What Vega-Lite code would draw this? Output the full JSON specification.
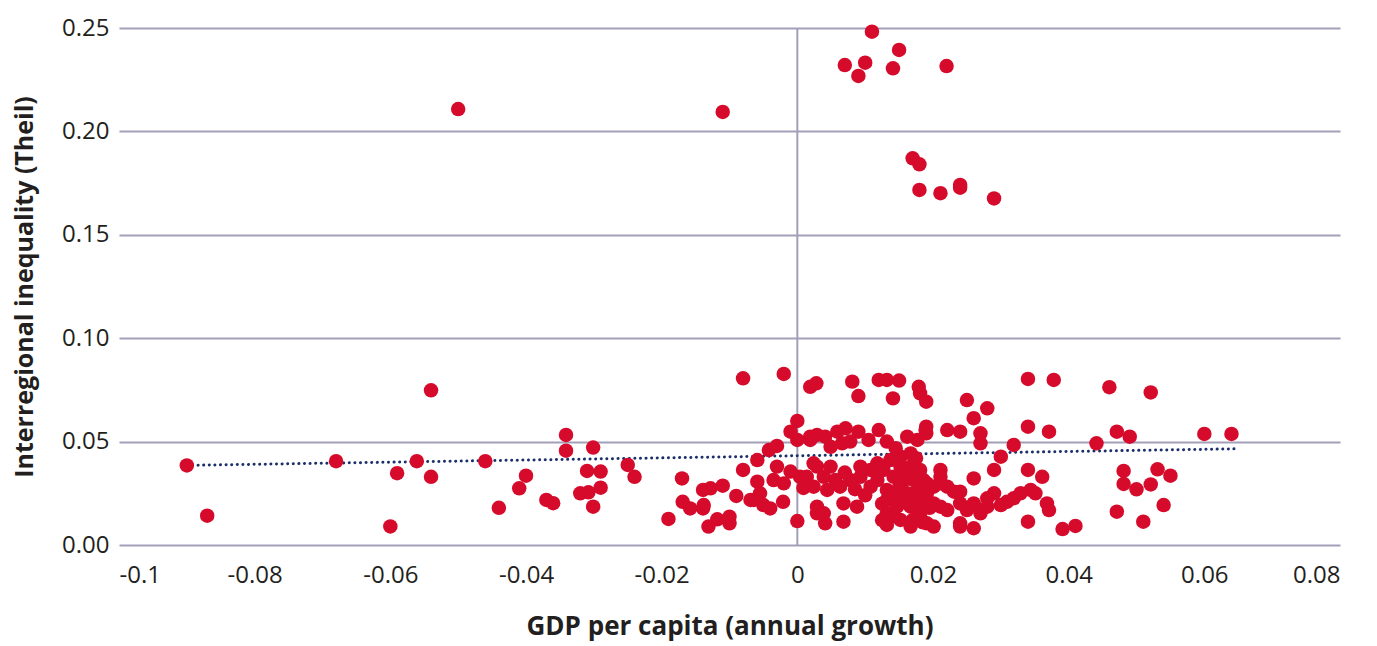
{
  "$schema": "https://vega.github.io/schema/vega-lite/v6.json",
  "autosize": "none",
  "width": 1221,
  "height": 517,
  "padding": {"left": 119, "top": 28, "right": 37, "bottom": 101},
  "background": "white",
  "config": {
    "view": {"stroke": null},
    "font": "Open Sans",
    "axis": {"labelFont": "Open Sans", "titleFont": "Open Sans", "labelColor": "#231f20", "titleColor": "#231f20"}
  },
  "datasets": {
    "pts": [
      {"g":0.0110,"t":0.2482},{"g":0.0150,"t":0.2394},{"g":0.0070,"t":0.2321},{"g":0.0100,"t":0.2332},{"g":0.0090,"t":0.2268},{"g":0.0141,"t":0.2305},{"g":0.0220,"t":0.2316},{"g":-0.0110,"t":0.2094},{"g":0.0170,"t":0.1870},{"g":0.0180,"t":0.1841},{"g":0.0180,"t":0.1717},{"g":0.0211,"t":0.1701},{"g":0.0240,"t":0.1741},{"g":0.0240,"t":0.1728},{"g":0.0290,"t":0.1676},{"g":-0.0500,"t":0.2108},
      {"g":-0.0900,"t":0.0385},{"g":-0.0870,"t":0.0142},{"g":-0.0680,"t":0.0405},{"g":-0.0600,"t":0.0090},{"g":-0.0590,"t":0.0347},{"g":-0.0561,"t":0.0405},{"g":-0.0540,"t":0.0330},{"g":-0.0540,"t":0.0748},{"g":-0.0460,"t":0.0405},{"g":-0.0440,"t":0.0180},{"g":-0.0400,"t":0.0335},{"g":-0.0410,"t":0.0274},{"g":-0.0370,"t":0.0218},{"g":-0.0360,"t":0.0202},{"g":-0.0341,"t":0.0532},{"g":-0.0341,"t":0.0456},{"g":-0.0301,"t":0.0471},{"g":-0.0310,"t":0.0358},{"g":-0.0290,"t":0.0355},{"g":-0.0320,"t":0.0250},{"g":-0.0308,"t":0.0255},{"g":-0.0290,"t":0.0277},{"g":-0.0301,"t":0.0185},{"g":-0.0250,"t":0.0387},{"g":-0.0240,"t":0.0330},{"g":-0.0170,"t":0.0322},{"g":-0.0190,"t":0.0126},{"g":-0.0169,"t":0.0209},{"g":-0.0158,"t":0.0177},{"g":-0.0139,"t":0.0266},{"g":-0.0128,"t":0.0274},{"g":-0.0110,"t":0.0287},{"g":-0.0139,"t":0.0177},{"g":-0.0131,"t":0.0089},{"g":-0.0118,"t":0.0124},{"g":-0.0100,"t":0.0137},{"g":-0.0100,"t":0.0105},{"g":-0.0090,"t":0.0237},{"g":-0.0080,"t":0.0363},{"g":-0.0080,"t":0.0806},{"g":-0.0020,"t":0.0827},{"g":0.0019,"t":0.0765},{"g":0.0028,"t":0.0782},{"g":-0.0059,"t":0.0411},{"g":-0.0042,"t":0.0459},{"g":-0.0030,"t":0.0479},{"g":0.0000,"t":0.0600},{"g":-0.0010,"t":0.0548},{"g":0.0000,"t":0.0508},{"g":-0.0030,"t":0.0379},{"g":-0.0059,"t":0.0306},{"g":-0.0064,"t":0.0218},{"g":-0.0050,"t":0.0193},{"g":-0.0040,"t":0.0177},{"g":-0.0021,"t":0.0209},{"g":-0.0035,"t":0.0314},{"g":-0.0010,"t":0.0355},{"g":0.0000,"t":0.0116},{"g":0.0009,"t":0.0276},{"g":0.0029,"t":0.0153},{"g":0.0024,"t":0.0395},{"g":0.0014,"t":0.0330},{"g":-0.0055,"t":0.0250},{"g":-0.0138,"t":0.0193},{"g":-0.0069,"t":0.0218},{"g":-0.0020,"t":0.0298},{"g":0.0004,"t":0.0330},{"g":0.0019,"t":0.0524},
      {"g":0.0081,"t":0.0790},{"g":0.0090,"t":0.0720},{"g":0.0120,"t":0.0798},{"g":0.0132,"t":0.0798},{"g":0.0150,"t":0.0795},{"g":0.0141,"t":0.0709},{"g":0.0179,"t":0.0765},{"g":0.0181,"t":0.0733},{"g":0.0190,"t":0.0693},{"g":0.0250,"t":0.0701},{"g":0.0280,"t":0.0661},{"g":0.0260,"t":0.0613},{"g":0.0340,"t":0.0803},{"g":0.0378,"t":0.0798},{"g":0.0340,"t":0.0572},{"g":0.0371,"t":0.0548},{"g":0.0221,"t":0.0556},{"g":0.0240,"t":0.0548},{"g":0.0270,"t":0.0540},{"g":0.0270,"t":0.0492},{"g":0.0190,"t":0.0572},{"g":0.0190,"t":0.0540},{"g":0.0319,"t":0.0484},{"g":0.0300,"t":0.0427},{"g":0.0290,"t":0.0363},{"g":0.0340,"t":0.0363},{"g":0.0361,"t":0.0330},{"g":0.0351,"t":0.0250},{"g":0.0329,"t":0.0250},{"g":0.0319,"t":0.0226},{"g":0.0309,"t":0.0209},{"g":0.0300,"t":0.0193},{"g":0.0368,"t":0.0201},{"g":0.0371,"t":0.0169},{"g":0.0340,"t":0.0113},{"g":0.0260,"t":0.0322},{"g":0.0290,"t":0.0250},{"g":0.0280,"t":0.0226},{"g":0.0260,"t":0.0193},{"g":0.0250,"t":0.0169},{"g":0.0240,"t":0.0089},{"g":0.0260,"t":0.0081},{"g":0.0221,"t":0.0282},{"g":0.0231,"t":0.0258},{"g":0.0211,"t":0.0363},{"g":0.0211,"t":0.0330},{"g":0.0201,"t":0.0282},{"g":0.0191,"t":0.0298},{"g":0.0201,"t":0.0201},{"g":0.0211,"t":0.0185},{"g":0.0221,"t":0.0169},{"g":0.0201,"t":0.0089},{"g":0.0191,"t":0.0105},{"g":0.0181,"t":0.0153},
      {"g":0.0029,"t":0.0532},{"g":0.0041,"t":0.0524},{"g":0.0059,"t":0.0548},{"g":0.0071,"t":0.0564},{"g":0.0090,"t":0.0548},{"g":0.0078,"t":0.0500},{"g":0.0066,"t":0.0492},{"g":0.0120,"t":0.0556},{"g":0.0105,"t":0.0508},{"g":0.0132,"t":0.0500},{"g":0.0145,"t":0.0468},{"g":0.0162,"t":0.0524},{"g":0.0177,"t":0.0508},{"g":0.0189,"t":0.0556},{"g":0.0019,"t":0.0508},{"g":0.0049,"t":0.0475},{"g":0.0029,"t":0.0379},{"g":0.0049,"t":0.0379},{"g":0.0039,"t":0.0330},{"g":0.0056,"t":0.0314},{"g":0.0024,"t":0.0282},{"g":0.0044,"t":0.0266},{"g":0.0063,"t":0.0282},{"g":0.0078,"t":0.0314},{"g":0.0093,"t":0.0379},{"g":0.0093,"t":0.0330},{"g":0.0108,"t":0.0363},{"g":0.0118,"t":0.0395},{"g":0.0127,"t":0.0363},{"g":0.0118,"t":0.0314},{"g":0.0108,"t":0.0282},{"g":0.0137,"t":0.0411},{"g":0.0152,"t":0.0427},{"g":0.0167,"t":0.0443},{"g":0.0152,"t":0.0379},{"g":0.0167,"t":0.0379},{"g":0.0181,"t":0.0363},{"g":0.0142,"t":0.0330},{"g":0.0157,"t":0.0314},{"g":0.0172,"t":0.0314},{"g":0.0186,"t":0.0314},{"g":0.0132,"t":0.0266},{"g":0.0147,"t":0.0250},{"g":0.0162,"t":0.0250},{"g":0.0177,"t":0.0266},{"g":0.0191,"t":0.0250},{"g":0.0029,"t":0.0185},{"g":0.0039,"t":0.0153},{"g":0.0068,"t":0.0201},{"g":0.0088,"t":0.0185},{"g":0.0068,"t":0.0113},{"g":0.0041,"t":0.0105},{"g":0.0132,"t":0.0218},{"g":0.0132,"t":0.0153},{"g":0.0132,"t":0.0097},{"g":0.0147,"t":0.0185},{"g":0.0152,"t":0.0121},{"g":0.0167,"t":0.0185},{"g":0.0167,"t":0.0089},{"g":0.0181,"t":0.0137},{"g":0.0181,"t":0.0201},{"g":0.0211,"t":0.0298},{"g":0.0240,"t":0.0258},{"g":0.0181,"t":0.0218},{"g":0.0240,"t":0.0201},{"g":0.0260,"t":0.0201},{"g":0.0344,"t":0.0266},{"g":0.0240,"t":0.0105},{"g":0.0270,"t":0.0153},{"g":0.0280,"t":0.0185},
      {"g":0.0125,"t":0.0200},{"g":0.0140,"t":0.0140},{"g":0.0155,"t":0.0220},{"g":0.0170,"t":0.0120},{"g":0.0185,"t":0.0110},{"g":0.0175,"t":0.0230},{"g":0.0150,"t":0.0280},{"g":0.0195,"t":0.0180},{"g":0.0125,"t":0.0120},{"g":0.0100,"t":0.0240},{"g":0.0085,"t":0.0270},{"g":0.0070,"t":0.0350},{"g":0.0160,"t":0.0340},{"g":0.0175,"t":0.0420},
      {"g":0.0460,"t":0.0763},{"g":0.0521,"t":0.0738},{"g":0.0441,"t":0.0492},{"g":0.0471,"t":0.0548},{"g":0.0490,"t":0.0524},{"g":0.0600,"t":0.0537},{"g":0.0640,"t":0.0537},{"g":0.0391,"t":0.0077},{"g":0.0410,"t":0.0092},{"g":0.0481,"t":0.0358},{"g":0.0481,"t":0.0295},{"g":0.0500,"t":0.0269},{"g":0.0521,"t":0.0293},{"g":0.0531,"t":0.0366},{"g":0.0550,"t":0.0335},{"g":0.0540,"t":0.0193},{"g":0.0471,"t":0.0161},{"g":0.0510,"t":0.0113}
    ],
    "trend": [{"g": -0.09, "t": 0.0385}, {"g": 0.0645, "t": 0.0465}],
    "zero": [{"g": 0}]
  },
  "encoding": {
    "x": {
      "field": "g", "type": "quantitative",
      "scale": {"domain": [-0.1, 0.08], "nice": false, "zero": false},
      "axis": {
        "title": "GDP per capita (annual growth)",
        "values": [-0.1, -0.08, -0.06, -0.04, -0.02, 0, 0.02, 0.04, 0.06, 0.08],
        "labelExpr": "replace(format(datum.value, '~g'), '\u2212', '-')",
        "grid": false, "domain": false, "ticks": false,
        "labelFontSize": 24, "labelPadding": 18,
        "titleFontSize": 26, "titleFontWeight": "bold", "titlePadding": 26
      }
    }
  },
  "layer": [
    {
      "data": {"name": "zero"},
      "mark": {"type": "rule", "color": "#a39fb8", "strokeWidth": 2},
      "encoding": {
        "y": {"datum": 0, "type": "quantitative"},
        "y2": {"datum": 0.25}
      }
    },
    {
      "data": {"name": "trend"},
      "mark": {"type": "line", "color": "#1b2f6b", "strokeWidth": 3, "strokeDash": [0.1, 5.5], "strokeCap": "round"},
      "encoding": {
        "y": {"field": "t", "type": "quantitative"}
      }
    },
    {
      "data": {"name": "pts"},
      "mark": {"type": "circle", "color": "#d60b2c", "opacity": 1, "size": 210},
      "encoding": {
        "y": {
          "field": "t", "type": "quantitative",
          "scale": {"domain": [0, 0.25], "nice": false},
          "axis": {
            "title": "Interregional inequality (Theil)",
            "values": [0, 0.05, 0.1, 0.15, 0.2, 0.25],
            "format": ".2f",
            "grid": true, "gridColor": "#a39fb8", "gridWidth": 2,
            "domain": false, "ticks": false,
            "labelFontSize": 24, "labelPadding": 10,
            "titleFontSize": 25, "titleFontWeight": "bold", "titlePadding": 24
          }
        }
      }
    }
  ]
}
